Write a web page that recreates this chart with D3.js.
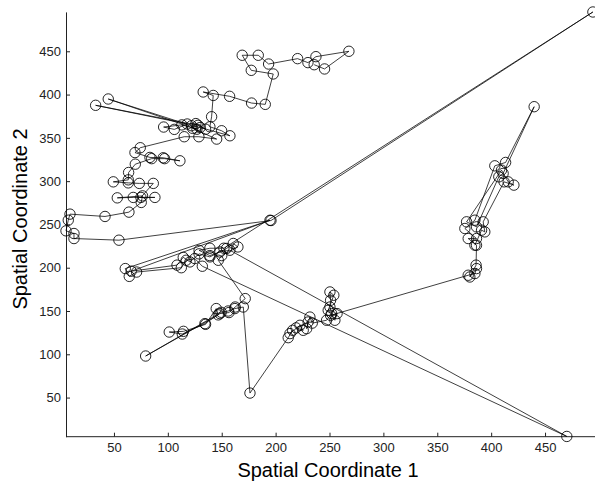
<!DOCTYPE html>
<html><head><meta charset="utf-8">
<script src="https://cdn.jsdelivr.net/npm/d3@7"></script>
<style>body{margin:0;background:#fff} svg{display:block}</style>
</head><body><svg id="c" width="595" height="484"></svg>
<script>
const xTicks = [50,100,150,200,250,300,350,400,450];
const yTicks = [50,100,150,200,250,300,350,400,450];
const xLabel = "Spatial Coordinate 1";
const yLabel = "Spatial Coordinate 2";

// trajectory, in visiting order, split in stages
const pathTop = [[235.8,434.5],[245.4,429.6],[268,450],[237.4,443.8],[230,436.9],[220.4,441.5],[193.5,435.3],[183.9,445.4],[169,445.4],[177.4,428],[197.8,423.8],[190.4,388.7],[177.7,390.2],[157.3,398],[132.8,403],[142.1,399],[140.6,374.4]];
const pathUpper = [[139,362.8],[149.9,358.2],[157.6,352.4],[130,362],[122,364],[44.7,394.9],[127,360],[113,365],[96.1,362.5],[106,359.8],[118,366],[33,387.6],[128,364.5],[135,360],[126,366.5],[123,361],[145.3,348.6],[128.8,351.3],[115.2,351.3]];
const pathRows = [[74.4,338.6],[69.5,333],[83.4,327.4],[95.7,327],[111.2,323.5],[97,326],[85,326],[69.8,319.6],[63.6,310],[63.3,301.5],[49.4,299.2],[63.3,298],[73.5,297.4],[86.5,297.4],[75,281.2],[88,281.2],[67.9,281.2],[53.1,280.7],[76.5,283],[75.3,275.4],[63.9,264.2],[41.7,259.2],[9.2,261.9],[7.6,254.9],[5.5,242.6],[12.9,239.5],[12.9,233.7],[54.6,231.8]];
const pathCentre = [[195.7,254.5],[494.4,495.4],[152,222.5],[139,222.5],[129,220],[139,214],[148.3,218.2],[157.6,220.2],[470.2,5.1],[132,201.7],[125,210.6],[117,208.6],[112.5,200],[71,195],[64.2,190],[60.5,199],[194.8,254.8],[66,196],[108.5,203],[114.3,212],[120.5,206.7],[129,216],[139,212.5],[154.5,222.2],[160.7,228],[165,224],[150,214],[146.8,208.6]];
const pathLow = [[171.8,164.3],[162.5,154.6],[156.7,148.2],[148.3,147],[134.4,135.4],[113.4,123.4],[101.3,125.7],[114.5,126.5],[135,134.6],[144.9,152.8],[146.8,145.5],[79.4,98],[149.5,148.5],[156,150],[162.2,152.8],[170,154.6],[176.2,55.2],[211.7,119.2],[215.8,127.7],[213.3,123.9],[222.6,133.5],[225.6,127.7],[219,130.5],[230.2,137.3],[228.8,129.6],[231.8,143],[234,136]];
const pathMid = [[247.3,139.3],[252,147],[250.4,154.6],[251,162.4],[250.4,172],[254,168.2],[248.8,150.8],[255,139.3],[257,147],[251,145]];
const pathRight = [[378.7,191.3],[384.9,193.3],[386.4,199],[380.2,189.3],[386,203],[386.4,226],[378.7,233.7],[386.4,233.7],[375.6,245.3],[384.9,254.9],[403.4,317.7],[413.4,321.6],[439.9,386],[411.1,308.9],[407.1,305],[386.4,247.2],[377.2,253],[409.6,312.7],[415.8,299.2],[421.1,295.4],[412,299.2],[392.6,253],[394.1,241.4],[391.1,243.4],[384.9,226]];

const route = [].concat(pathTop, pathUpper, pathRows, pathCentre, pathLow, pathMid, pathRight);

const svg = d3.select("#c");
const x = d3.scaleLinear().domain([5.5,494.5]).range([66,593]);
const y = d3.scaleLinear().domain([4.8,495.5]).range([436.7,11.9]);
const font = "'Liberation Sans', Arial, sans-serif";

const gx = svg.append("g").attr("transform","translate(0,"+y.range()[0]+")")
  .call(d3.axisBottom(x).tickValues(xTicks).tickSizeInner(-4).tickSizeOuter(0).tickPadding(6));
const gy = svg.append("g").attr("transform","translate("+x.range()[0]+",0)")
  .call(d3.axisLeft(y).tickValues(yTicks).tickSizeInner(-4).tickSizeOuter(0).tickPadding(5));
[gx,gy].forEach(g=>{
  g.select(".domain").attr("stroke","#222");
  g.selectAll(".tick line").attr("stroke","#222");
  g.selectAll(".tick text").attr("fill","#222").style("font-family",font).style("font-size","13px");
});
gx.select(".domain").attr("d","M66,0H595");

svg.append("path").datum(route)
  .attr("d", d3.line().x(d=>x(d[0])).y(d=>y(d[1])))
  .attr("fill","none").attr("stroke","#000").attr("stroke-width",0.75);

svg.append("g").selectAll("circle").data(route).join("circle")
  .attr("cx",d=>x(d[0])).attr("cy",d=>y(d[1])).attr("r",5.2)
  .attr("fill","none").attr("stroke","#000").attr("stroke-width",0.85);

svg.append("text").attr("x",328).attr("y",477).attr("text-anchor","middle")
  .style("font-family",font).style("font-size","20px").attr("fill","#000").text(xLabel);
svg.append("text").attr("transform","translate(27,219) rotate(-90)").attr("text-anchor","middle")
  .style("font-family",font).style("font-size","20px").attr("fill","#000").text(yLabel);
</script></body></html>
